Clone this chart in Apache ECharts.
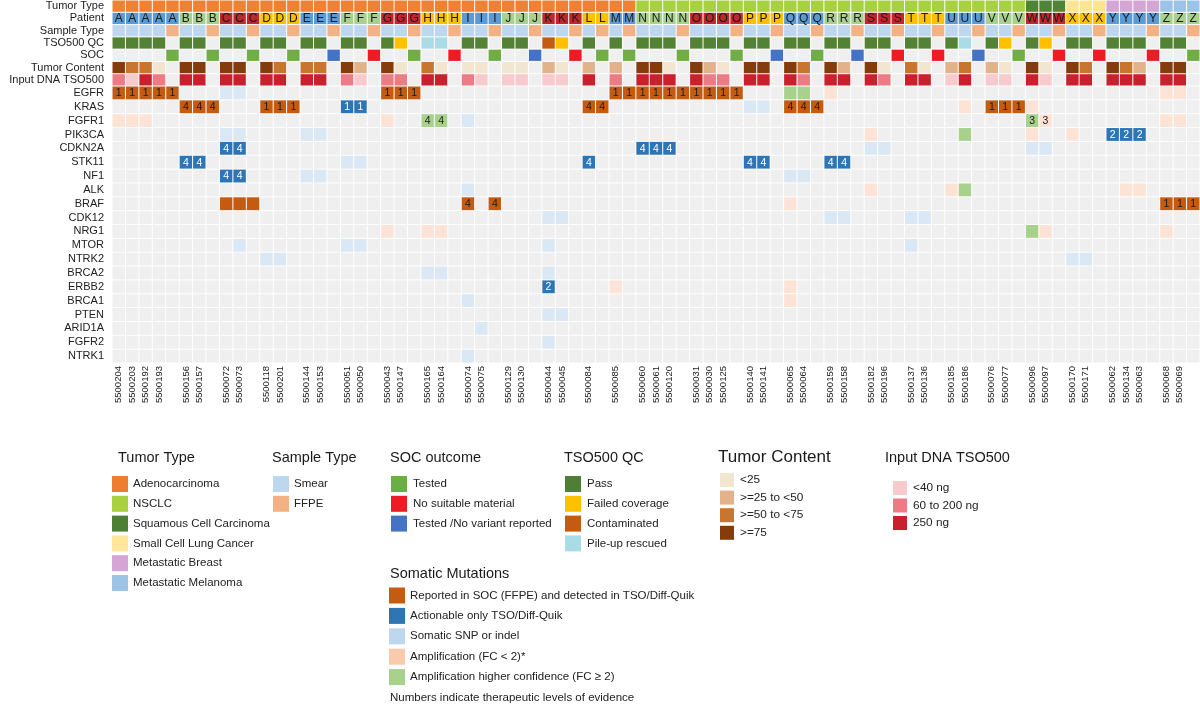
<!DOCTYPE html>
<html><head><meta charset="utf-8">
<script src="https://cdn.jsdelivr.net/npm/echarts@6/dist/echarts.min.js"></script>
<style>html,body{margin:0;padding:0;background:#fff}#c{width:1200px;height:705px}</style>
</head><body><div id="c"></div>
<script>
// ---------------- DATA ----------------
const patients = ['A','A','A','A','A','B','B','B','C','C','C','D','D','D','E','E','E','F','F','F','G','G','G','H','H','H','I','I','I','J','J','J','K','K','K','L','L','M','M','N','N','N','N','O','O','O','O','P','P','P','Q','Q','Q','R','R','R','S','S','S','T','T','T','U','U','U','V','V','V','W','W','W','X','X','X','Y','Y','Y','Y','Z','Z','Z'];
const sampleIds = ['5500204','5500203','5500192','5500193','',
 '5500156','5500157','', '5500072','5500073','', '5500118','5500201','', '5500144','5500153','',
 '5500051','5500050','', '5500043','5500147','', '5500165','5500164','', '5500074','5500075','',
 '5500129','5500130','', '5500044','5500045','', '5500084','', '5500085','',
 '5500060','5500061','5500120','', '5500031','5500030','5500125','',
 '5500140','5500141','', '5500065','5500064','', '5500159','5500158','', '5500182','5500196','',
 '5500137','5500136','', '5500185','5500186','', '5500076','5500077','', '5500096','5500097','',
 '5500170','5500171','', '5500062','5500134','5500063','', '5500068','5500069',''];
const sampleTypes = ['Smear','Smear','Smear','Smear','FFPE',
 'Smear','Smear','FFPE','Smear','Smear','FFPE','Smear','Smear','FFPE','Smear','Smear','FFPE',
 'Smear','Smear','FFPE','Smear','Smear','FFPE','Smear','Smear','FFPE','Smear','Smear','FFPE',
 'Smear','Smear','FFPE','Smear','Smear','FFPE','Smear','FFPE','Smear','FFPE',
 'Smear','Smear','Smear','FFPE','Smear','Smear','Smear','FFPE',
 'Smear','Smear','FFPE','Smear','Smear','FFPE','Smear','Smear','FFPE','Smear','Smear','FFPE',
 'Smear','Smear','FFPE','Smear','Smear','FFPE','Smear','Smear','FFPE','Smear','Smear','FFPE',
 'Smear','Smear','FFPE','Smear','Smear','Smear','FFPE','Smear','Smear','FFPE'];
const patientLetters = ['A','B','C','D','E','F','G','H','I','J','K','L','M','N','O','P','Q','R','S','T','U','V','W','X','Y','Z'];
const tumorTypeByPatient = ['Adenocarcinoma','Adenocarcinoma','Adenocarcinoma','Adenocarcinoma','Adenocarcinoma','Adenocarcinoma','Adenocarcinoma','Adenocarcinoma','Adenocarcinoma','Adenocarcinoma','Adenocarcinoma','Adenocarcinoma','Adenocarcinoma',
 'NSCLC','NSCLC','NSCLC','NSCLC','NSCLC','NSCLC','NSCLC','NSCLC','NSCLC',
 'Squamous Cell Carcinoma','Small Cell Lung Cancer','Metastatic Breast','Metastatic Melanoma'];
// TSO500 QC: P pass, F failed coverage, C contaminated, R pile-up rescued
const tsoQC = ['P','P','P','P','',
 'P','P','', 'P','P','', 'P','P','', 'P','P','', 'P','P','', 'P','F','', 'R','R','', 'P','P','', 'P','P','', 'C','F','',
 'P','', 'P','', 'P','P','P','', 'P','P','P','',
 'P','P','', 'P','P','', 'P','P','', 'P','P','', 'P','P','', 'P','R','', 'P','F','', 'P','F','', 'P','P','',
 'P','P','P','', 'P','P',''];
// SOC outcome: T tested, N no suitable material, V tested / no variant reported
const socOutcome = ['','','','','T',
 '','','T', '','','T', '','','T', '','','V', '','','N', '','','T', '','','N', '','','T', '','','V', '','','N',
 '','T', '','T', '','','','T', '','','','T',
 '','','V', '','','T', '','','V', '','','N', '','','N', '','','V', '','','T', '','','N', '','','N',
 '','','','N', '','','T'];
// Tumor content: 1 <25, 2 25-50, 3 50-75, 4 >=75, 0 none
const tumorContent = [4,3,3,1,0, 4,4,0, 4,4,0, 4,3,0, 3,3,0, 4,2,0, 4,1,0, 3,1,0, 1,1,0, 1,1,0, 2,1,0,
 2,0, 2,0, 4,4,1,0, 4,2,1,0,
 4,4,0, 4,3,0, 4,2,0, 4,1,0, 3,1,0, 2,3,0, 2,1,0, 4,1,0, 4,3,0, 4,3,2,0, 4,4,0];
// Input DNA: 1 <40 ng, 2 60-200 ng, 3 250 ng, 0 none
const inputDNA = [2,1,3,2,0, 3,3,0, 3,3,0, 3,3,0, 3,3,0, 2,1,0, 2,2,0, 3,3,0, 2,1,0, 1,1,0, 1,1,0,
 3,0, 2,0, 3,3,3,0, 3,2,2,0,
 3,3,0, 3,2,0, 3,3,0, 3,2,0, 3,3,0, 1,3,0, 1,1,0, 3,1,0, 3,3,0, 3,3,3,0, 3,3,0];
const annotationRows = ['Tumor Type','Patient','Sample Type','TSO500 QC','SOC','Tumor Content','Input DNA TSO500'];
const genes = ['EGFR','KRAS','FGFR1','PIK3CA','CDKN2A','STK11','NF1','ALK','BRAF','CDK12','NRG1','MTOR','NTRK2','BRCA2','ERBB2','BRCA1','PTEN','ARID1A','FGFR2','NTRK1'];
// [gene, column, type, evidence level]; R reported SOC+TSO, A actionable only TSO, S SNP/indel, L amplification FC<2, H amplification FC>=2
const mutations = [
 ['EGFR',0,'R','1'],['EGFR',1,'R','1'],['EGFR',2,'R','1'],['EGFR',3,'R','1'],['EGFR',4,'R','1'],
 ['EGFR',8,'S',''],['EGFR',9,'S',''],['EGFR',20,'R','1'],['EGFR',21,'R','1'],['EGFR',22,'R','1'],
 ['EGFR',37,'R','1'],['EGFR',38,'R','1'],['EGFR',39,'R','1'],['EGFR',40,'R','1'],['EGFR',41,'R','1'],
 ['EGFR',42,'R','1'],['EGFR',43,'R','1'],['EGFR',44,'R','1'],['EGFR',45,'R','1'],['EGFR',46,'R','1'],
 ['EGFR',50,'H',''],['EGFR',51,'H',''],['EGFR',53,'L',''],['EGFR',78,'L',''],['EGFR',79,'L',''],
 ['KRAS',5,'R','4'],['KRAS',6,'R','4'],['KRAS',7,'R','4'],['KRAS',11,'R','1'],['KRAS',12,'R','1'],['KRAS',13,'R','1'],
 ['KRAS',17,'A','1'],['KRAS',18,'A','1'],['KRAS',35,'R','4'],['KRAS',36,'R','4'],['KRAS',47,'S',''],['KRAS',48,'S',''],
 ['KRAS',50,'R','4'],['KRAS',51,'R','4'],['KRAS',52,'R','4'],['KRAS',63,'L',''],
 ['KRAS',65,'R','1'],['KRAS',66,'R','1'],['KRAS',67,'R','1'],['KRAS',68,'L',''],
 ['FGFR1',0,'L',''],['FGFR1',1,'L',''],['FGFR1',2,'L',''],['FGFR1',20,'L',''],['FGFR1',23,'H','4'],['FGFR1',24,'H','4'],
 ['FGFR1',26,'S',''],['FGFR1',68,'H','3'],['FGFR1',69,'L','3'],['FGFR1',78,'L',''],['FGFR1',79,'L',''],
 ['PIK3CA',8,'S',''],['PIK3CA',9,'S',''],['PIK3CA',14,'S',''],['PIK3CA',15,'S',''],['PIK3CA',56,'L',''],
 ['PIK3CA',63,'H',''],['PIK3CA',68,'L',''],['PIK3CA',71,'L',''],['PIK3CA',74,'A','2'],['PIK3CA',75,'A','2'],['PIK3CA',76,'A','2'],
 ['CDKN2A',8,'A','4'],['CDKN2A',9,'A','4'],['CDKN2A',39,'A','4'],['CDKN2A',40,'A','4'],['CDKN2A',41,'A','4'],
 ['CDKN2A',56,'S',''],['CDKN2A',57,'S',''],['CDKN2A',68,'S',''],['CDKN2A',69,'S',''],
 ['STK11',5,'A','4'],['STK11',6,'A','4'],['STK11',17,'S',''],['STK11',18,'S',''],['STK11',35,'A','4'],
 ['STK11',47,'A','4'],['STK11',48,'A','4'],['STK11',53,'A','4'],['STK11',54,'A','4'],
 ['NF1',8,'A','4'],['NF1',9,'A','4'],['NF1',14,'S',''],['NF1',15,'S',''],['NF1',50,'S',''],['NF1',51,'S',''],
 ['ALK',26,'S',''],['ALK',56,'L',''],['ALK',62,'L',''],['ALK',63,'H',''],['ALK',75,'L',''],['ALK',76,'L',''],
 ['BRAF',8,'R',''],['BRAF',9,'R',''],['BRAF',10,'R',''],['BRAF',26,'R','4'],['BRAF',28,'R','4'],['BRAF',50,'L',''],
 ['BRAF',78,'R','1'],['BRAF',79,'R','1'],['BRAF',80,'R','1'],
 ['CDK12',32,'S',''],['CDK12',33,'S',''],['CDK12',53,'S',''],['CDK12',54,'S',''],['CDK12',59,'S',''],['CDK12',60,'S',''],
 ['NRG1',20,'L',''],['NRG1',23,'L',''],['NRG1',24,'L',''],['NRG1',68,'H',''],['NRG1',69,'L',''],['NRG1',78,'L',''],
 ['MTOR',9,'S',''],['MTOR',17,'S',''],['MTOR',18,'S',''],['MTOR',32,'S',''],['MTOR',59,'S',''],
 ['NTRK2',11,'S',''],['NTRK2',12,'S',''],['NTRK2',71,'S',''],['NTRK2',72,'S',''],
 ['BRCA2',23,'S',''],['BRCA2',24,'S',''],['BRCA2',32,'S',''],
 ['ERBB2',32,'A','2'],['ERBB2',37,'L',''],['ERBB2',50,'L',''],
 ['BRCA1',26,'S',''],['BRCA1',50,'L',''],
 ['PTEN',32,'S',''],['PTEN',33,'S',''],
 ['ARID1A',27,'S',''],
 ['FGFR2',32,'S',''],
 ['NTRK1',26,'S','']
];

// ---------------- STYLES ----------------
const FONT = '"Liberation Sans", Arial, Helvetica, sans-serif';
const EMPTY = '#EFEFEF';
const tumorTypeColors = {'Adenocarcinoma':'#EE8133','NSCLC':'#A8D13F','Squamous Cell Carcinoma':'#4F8336','Small Cell Lung Cancer':'#FFE491','Metastatic Breast':'#D5A6D5','Metastatic Melanoma':'#9EC3E8'};
const patientColors = ['#5B9BD5','#A9D18E','#C0272D','#FFC000'];
const sampleTypeColors = {'Smear':'#BDD7EE','FFPE':'#F4B183'};
const qcColors = {P:'#548235',F:'#FFC000',C:'#C55A11',R:'#A9DCE6'};
const socColors = {T:'#70AD47',N:'#ED1C24',V:'#4472C4'};
const tcColors = ['#F2E6D0','#E2B38A','#C8752F','#843C0C'];
const dnaColors = ['#F8C9CD','#EE7A85','#C9202E'];
const mutColors = {R:'#C55A11',A:'#2E75B6',S:'#DAE7F5',L:'#FCE3D5',H:'#A9D18E'};

// ---------------- BUILD ----------------
const nCols = patients.length;
const colCats = patients.map((_, i) => String(i));
const annoCells = [];
for (let c = 0; c < nCols; c++) {
  const li = patientLetters.indexOf(patients[c]);
  annoCells.push({c, r:0, fill: tumorTypeColors[tumorTypeByPatient[li]]});
  annoCells.push({c, r:1, fill: patientColors[li % 4], text: patients[c], tc:'#1a1a1a', fs:12});
  annoCells.push({c, r:2, fill: sampleTypeColors[sampleTypes[c]]});
  annoCells.push({c, r:3, fill: tsoQC[c] ? qcColors[tsoQC[c]] : EMPTY});
  annoCells.push({c, r:4, fill: socOutcome[c] ? socColors[socOutcome[c]] : EMPTY});
  annoCells.push({c, r:5, fill: tumorContent[c] ? tcColors[tumorContent[c]-1] : EMPTY});
  annoCells.push({c, r:6, fill: inputDNA[c] ? dnaColors[inputDNA[c]-1] : EMPTY});
}
const mutMap = {};
mutations.forEach(m => { mutMap[m[0] + '|' + m[1]] = m; });
const geneCells = [];
genes.forEach((g, r) => {
  for (let c = 0; c < nCols; c++) {
    const m = mutMap[g + '|' + c];
    if (m) geneCells.push({c, r, fill: mutColors[m[2]], text: m[3], tc: m[2] === 'A' ? '#ffffff' : '#1a1a1a', fs:10.5});
    else geneCells.push({c, r, fill: EMPTY});
  }
});

function makeRender(cells) {
  return function (params, api) {
    const d = cells[params.dataIndex];
    const p = api.coord([api.value(0), api.value(1)]);
    const s = api.size([1, 1]);
    const x = p[0] - s[0] / 2, y = p[1] - s[1] / 2;
    const children = [{type:'rect', shape:{x:x + 0.5, y:y + 0.5, width:s[0] - 1, height:s[1] - 1}, style:{fill:d.fill}}];
    if (d.text) children.push({type:'text', style:{text:d.text, x:p[0], y:p[1] + 0.5, align:'center', verticalAlign:'middle', fill:d.tc, fontSize:d.fs, fontFamily:FONT}});
    return {type:'group', children};
  };
}

// ---------------- LEGENDS ----------------
const graphics = [];
function legendBlock(title, tx, ty, tsize, items, swx, sw, txtx, y0, dy, fsize) {
  graphics.push({type:'text', left:tx, top:ty - tsize * 0.6, style:{text:title, fontSize:tsize, fontFamily:FONT, fill:'#1a1a1a'}});
  items.forEach((it, i) => {
    const cy = y0 + dy * i;
    graphics.push({type:'rect', shape:{x:swx, y:cy - sw / 2, width:sw, height:sw}, style:{fill:it[1]}});
    graphics.push({type:'text', x:txtx, y:cy, style:{text:it[0], fontSize:fsize, fontFamily:FONT, fill:'#222', verticalAlign:'middle'}});
  });
}
legendBlock('Tumor Type', 118, 459, 14.5, [['Adenocarcinoma','#ED7D31'],['NSCLC','#A9D13F'],['Squamous Cell Carcinoma','#4F7F34'],['Small Cell Lung Cancer','#FFE699'],['Metastatic Breast','#D5A6D5'],['Metastatic Melanoma','#9DC3E6']], 112, 16, 133, 484, 19.8, 11.5);
legendBlock('Sample Type', 272, 459, 14.5, [['Smear','#BDD7EE'],['FFPE','#F4B183']], 273, 16, 294, 484, 19.8, 11.5);
legendBlock('SOC outcome', 390, 459, 14.5, [['Tested','#6AAF45'],['No suitable material','#ED1C24'],['Tested /No variant reported','#4472C4']], 391, 16, 413, 484, 19.8, 11.5);
legendBlock('TSO500 QC', 564, 459, 14.5, [['Pass','#4F7F34'],['Failed coverage','#FFC000'],['Contaminated','#C55A11'],['Pile-up rescued','#A9DCE6']], 565, 16, 587, 484, 19.8, 11.5);
legendBlock('Somatic Mutations', 390, 575, 14.5, [['Reported in SOC (FFPE) and detected in TSO/Diff-Quik','#C55A11'],['Actionable only TSO/Diff-Quik','#2E75B6'],['Somatic SNP or indel','#BDD7EE'],['Amplification (FC < 2)*','#F8CBAD'],['Amplification higher confidence (FC \u2265 2)','#A9D18E']], 389, 16, 410, 595.5, 20.4, 11.5);
graphics.push({type:'text', x:390, y:698, style:{text:'Numbers indicate therapeutic levels of evidence', fontSize:11.5, fontFamily:FONT, fill:'#222', verticalAlign:'middle'}});
legendBlock('Tumor Content', 718, 459, 17, [['<25','#F2E6D0'],['>=25 to <50','#E2B38A'],['>=50 to <75','#C8752F'],['>=75','#843C0C']], 720, 14, 740, 480, 17.6, 11.8);
legendBlock('Input DNA TSO500', 885, 459, 14.5, [['<40 ng','#F8C9CD'],['60 to 200 ng','#EE7A85'],['250 ng','#C9202E']], 893, 14, 913, 488, 17.5, 11.8);

// ---------------- CHART ----------------
const chart = echarts.init(document.getElementById('c'));
chart.setOption({
  animation: false,
  backgroundColor: '#ffffff',
  textStyle: {fontFamily: FONT},
  grid: [
    {left:112, top:0, width:1088, height:86, outerBoundsMode:'none', containLabel:false},
    {left:112, top:86, width:1088, height:277, outerBoundsMode:'none', containLabel:false}
  ],
  xAxis: [
    {gridIndex:0, type:'category', data:colCats, show:false},
    {gridIndex:1, type:'category', data:colCats, position:'bottom',
     axisLine:{show:false}, axisTick:{show:false}, splitLine:{show:false},
     axisLabel:{interval:0, rotate:90, fontSize:9.5, color:'#222', margin:3, fontFamily:FONT,
       formatter:(v) => sampleIds[+v] || ''}}
  ],
  yAxis: [
    {gridIndex:0, type:'category', data:annotationRows, inverse:true,
     axisLine:{show:false}, axisTick:{show:false}, splitLine:{show:false},
     axisLabel:{interval:0, fontSize:11, color:'#222', margin:8, fontFamily:FONT}},
    {gridIndex:1, type:'category', data:genes, inverse:true,
     axisLine:{show:false}, axisTick:{show:false}, splitLine:{show:false},
     axisLabel:{interval:0, fontSize:11, color:'#222', margin:8, fontFamily:FONT}}
  ],
  series: [
    {type:'custom', xAxisIndex:0, yAxisIndex:0, renderItem: makeRender(annoCells), data: annoCells.map(d => [d.c, d.r]), clip:false, silent:true},
    {type:'custom', xAxisIndex:1, yAxisIndex:1, renderItem: makeRender(geneCells), data: geneCells.map(d => [d.c, d.r]), clip:false, silent:true}
  ],
  graphic: graphics
});
</script>
</body></html>
